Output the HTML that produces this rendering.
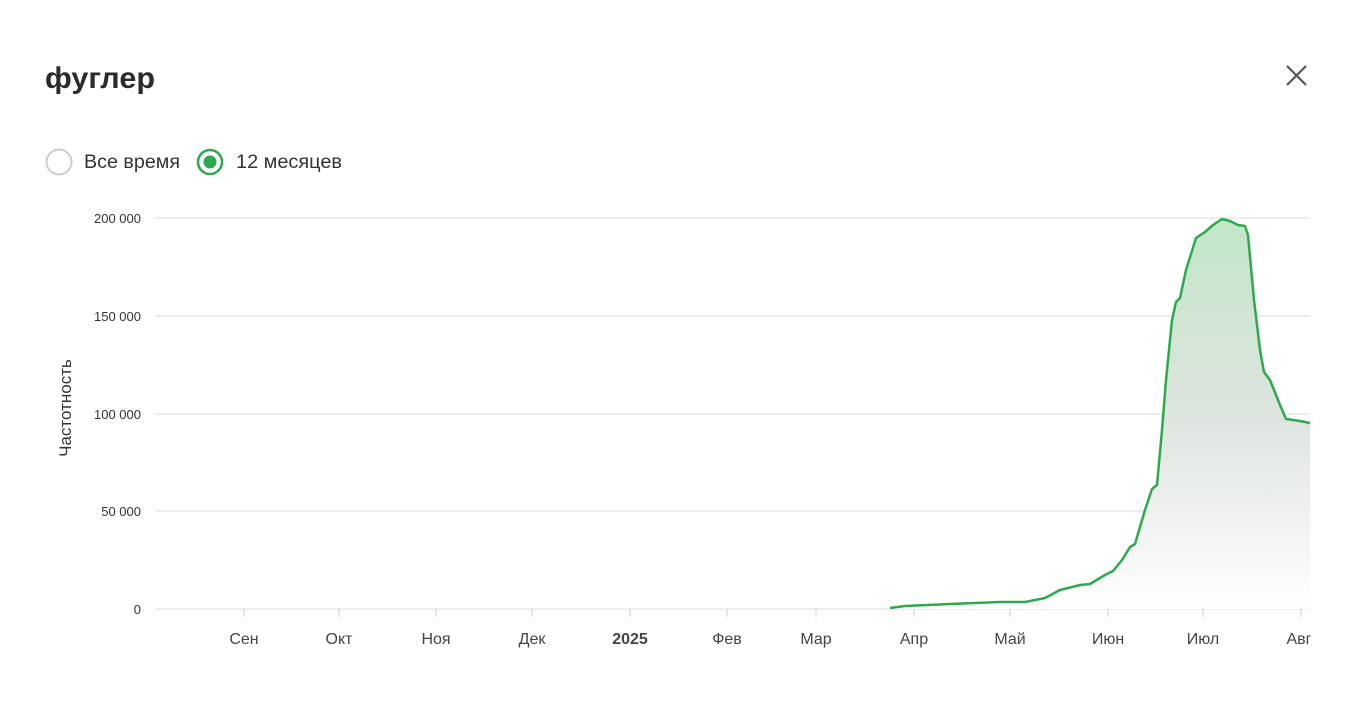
<!DOCTYPE html>
<html><head><meta charset="utf-8"><style>
body{margin:0;width:1360px;height:714px;background:#fff;font-family:"Liberation Sans",sans-serif;overflow:hidden}
</style></head><body>
<svg width="1360" height="714" viewBox="0 0 1360 714" xmlns="http://www.w3.org/2000/svg" font-family="Liberation Sans, sans-serif">
<defs><linearGradient id="g" x1="0" x2="0" y1="218" y2="609" gradientUnits="userSpaceOnUse">
<stop offset="0" stop-color="#c3e6c8"/><stop offset="0.5" stop-color="#dde4de"/><stop offset="1" stop-color="#ffffff"/></linearGradient></defs>
<text x="45" y="88" font-size="30" font-weight="bold" fill="#2b2b2b" textLength="110" lengthAdjust="spacingAndGlyphs">фуглер</text>
<path d="M1287 66 L1306 85 M1306 66 L1287 85" stroke="#555" stroke-width="2.2"/>
<circle cx="59" cy="162" r="12.5" fill="none" stroke="#ccc" stroke-width="2"/>
<text x="84" y="168" font-size="19" fill="#333" textLength="96" lengthAdjust="spacingAndGlyphs">Все время</text>
<circle cx="210" cy="162" r="12" fill="none" stroke="#2ea84f" stroke-width="2.5"/>
<circle cx="210" cy="162" r="6.5" fill="#2ea84f"/>
<text x="236" y="168" font-size="19" fill="#333" textLength="106" lengthAdjust="spacingAndGlyphs">12 месяцев</text>
<g stroke="#e6e6e6" stroke-width="1.5">
<line x1="155" y1="218" x2="1310" y2="218"/><line x1="155" y1="316" x2="1310" y2="316"/>
<line x1="155" y1="414" x2="1310" y2="414"/><line x1="155" y1="511" x2="1310" y2="511"/>
<line x1="155" y1="609" x2="1310" y2="609"/></g>
<g font-size="13" fill="#333" text-anchor="end">
<text x="141" y="223">200 000</text><text x="141" y="321">150 000</text><text x="141" y="419">100 000</text><text x="141" y="516">50 000</text><text x="141" y="614">0</text></g>
<text transform="translate(71,408) rotate(-90)" font-size="17" fill="#333" text-anchor="middle">Частотность</text>
<g stroke="#ddd" stroke-width="1.5">
<line x1="244" y1="609" x2="244" y2="617"/><line x1="339" y1="609" x2="339" y2="617"/><line x1="436" y1="609" x2="436" y2="617"/><line x1="532" y1="609" x2="532" y2="617"/><line x1="630" y1="609" x2="630" y2="617"/><line x1="727" y1="609" x2="727" y2="617"/><line x1="816" y1="609" x2="816" y2="617"/><line x1="914" y1="609" x2="914" y2="617"/><line x1="1010" y1="609" x2="1010" y2="617"/><line x1="1108" y1="609" x2="1108" y2="617"/><line x1="1203" y1="609" x2="1203" y2="617"/><line x1="1301" y1="609" x2="1301" y2="617"/></g>
<g font-size="16" fill="#444" text-anchor="middle">
<text x="244" y="644">Сен</text><text x="339" y="644">Окт</text><text x="436" y="644">Ноя</text><text x="532" y="644">Дек</text><text x="630" y="644" font-weight="bold">2025</text><text x="727" y="644">Фев</text><text x="816" y="644">Мар</text><text x="914" y="644">Апр</text><text x="1010" y="644">Май</text><text x="1108" y="644">Июн</text><text x="1203" y="644">Июл</text><text x="1299" y="644">Авг</text></g>
<path fill="url(#g)" d="M890 608 L905 606 L950 604 L1000 602 L1025 602 L1045 598 L1060 590 L1068 588 L1080 585 L1090 584 L1105 575 L1113 571 L1122 560 L1130 547 L1135 544 L1145 510 L1152 489 L1157 485 L1162 430 L1166 380 L1172 320 L1176 302 L1180 298 L1186 270 L1196 238 L1205 232 L1213 225 L1222 219 L1230 221 L1238 225 L1245 226 L1248 235 L1254 300 L1260 350 L1264 372 L1270 380 L1280 405 L1286 419 L1300 421 L1310 423 L1310 609 L890 609 Z"/>
<path fill="none" stroke="#2eaa4e" stroke-width="2.5" stroke-linejoin="round" d="M890 608 L905 606 L950 604 L1000 602 L1025 602 L1045 598 L1060 590 L1068 588 L1080 585 L1090 584 L1105 575 L1113 571 L1122 560 L1130 547 L1135 544 L1145 510 L1152 489 L1157 485 L1162 430 L1166 380 L1172 320 L1176 302 L1180 298 L1186 270 L1196 238 L1205 232 L1213 225 L1222 219 L1230 221 L1238 225 L1245 226 L1248 235 L1254 300 L1260 350 L1264 372 L1270 380 L1280 405 L1286 419 L1300 421 L1310 423"/>
</svg>
</body></html>
